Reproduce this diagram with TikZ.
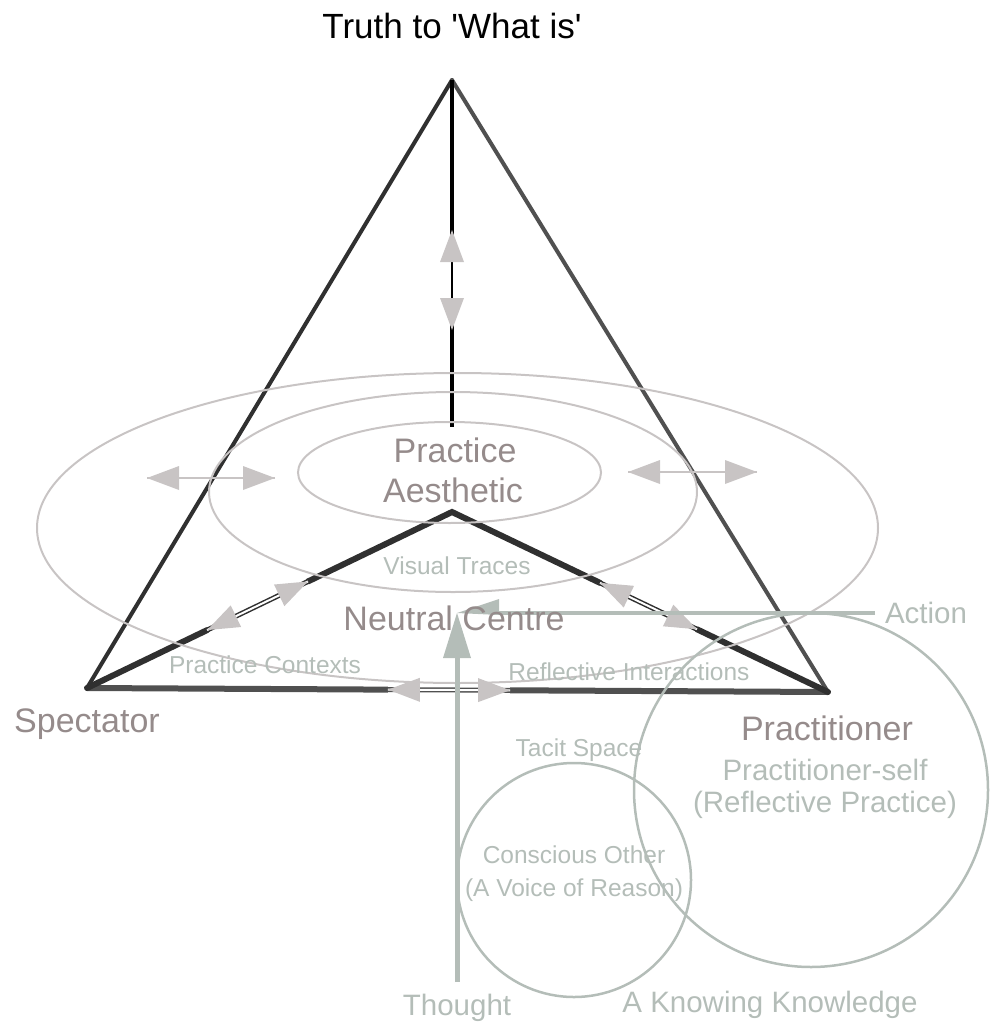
\documentclass[tikz,border=0pt]{standalone}
\usepackage{fontspec}
\setmainfont{Liberation Sans}
\newfontfamily\titlefont{Liberation Sans}[Ligatures=TeXOff]
\usetikzlibrary{calc}
\definecolor{dk}{HTML}{303030}
\definecolor{md}{HTML}{505050}
\definecolor{agray}{HTML}{C8C4C4}
\definecolor{ggreen}{HTML}{B4BDB8}
\definecolor{brn}{HTML}{958B8B}
\tikzset{
  bigtext/.style={font=\fontsize{34}{40}\selectfont, text=brn, anchor=base, inner sep=0pt},
  medtext/.style={font=\fontsize{29.5}{32}\selectfont, text=ggreen, anchor=base, inner sep=0pt},
  smalltext/.style={font=\fontsize{24.5}{30}\selectfont, text=ggreen, anchor=base, inner sep=0pt},
  outerside/.style={line width=4pt, line cap=round},
  innerside/.style={dk, line width=6pt, line cap=round, line join=miter},
  dbl/.style={line width=1.5pt, double=white, double distance=2pt},
  ring/.style={agray, line width=2pt},
  circ/.style={ggreen, line width=2.5pt},
  garrow/.style={ggreen, line width=5pt}
}
% arrowhead: tip at #2, base towards #3
\newcommand\myhead[3][agray]{%
  \coordinate (hb) at ($(#2)!32pt!(#3)$);
  \fill[#1] (#2) -- ($(hb)!12pt!90:(#2)$) -- ($(hb)!12pt!-90:(#2)$) -- cycle;}
\begin{document}
\begin{tikzpicture}[x=1pt,y=-1pt]
\useasboundingbox (0,0) rectangle (989,1024);
% key points
\coordinate (A) at (452,80);
\coordinate (S) at (87,688);
\coordinate (P) at (828,692);
\coordinate (I) at (452,512);
\coordinate (Vend) at (452,427);
\coordinate (Vup) at (452,230);
\coordinate (Vdn) at (452,330);
\coordinate (Vupb) at (452,255);
\coordinate (Vdnb) at (452,305);
% outer triangle
\draw[outerside, dk] (A) -- (S);
\draw[outerside, md] (A) -- (P);
% vertical axis
\draw[black, line width=4pt] (A) -- (Vupb);
\draw[black, line width=2.5pt] (Vup) -- (Vdn);
\draw[black, line width=4pt] (Vdnb) -- (Vend);
\myhead{Vup}{Vdn}
\myhead{Vdn}{Vup}
% base with double arrow
\coordinate (B1) at ($(S)!0.406!(P)$);
\coordinate (B2) at ($(S)!0.571!(P)$);
\draw[md, line width=6pt] (S) -- (B1);
\draw[md, line width=6pt] (B2) -- (P);
\draw[md, dbl] (B1) -- (B2);
\myhead{B1}{B2}
\myhead{B2}{B1}
% inner lines
\coordinate (L1) at ($(S)!0.329!(I)$);
\coordinate (L2) at ($(S)!0.6055!(I)$);
\coordinate (R1) at ($(I)!0.3936!(P)$);
\coordinate (R2) at ($(I)!0.6516!(P)$);
\draw[innerside] (S) -- (L1);
\draw[innerside] (L2) -- (I) -- (R1);
\draw[innerside] (R2) -- (P);
\draw[dk, dbl] (L1) -- (L2);
\draw[dk, dbl] (R1) -- (R2);
\myhead{L1}{L2}
\myhead{L2}{L1}
\myhead{R1}{R2}
\myhead{R2}{R1}
% horizontal arrows
\coordinate (HL1) at (147,478);
\coordinate (HL2) at (275,478);
\coordinate (HR1) at (628,472);
\coordinate (HR2) at (757,472);
\draw[agray, line width=2pt] (HL1) -- (HL2);
\draw[agray, line width=2pt] (HR1) -- (HR2);
\myhead{HL1}{HL2}
\myhead{HL2}{HL1}
\myhead{HR1}{HR2}
\myhead{HR2}{HR1}
% ellipses
\draw[ring] (457.5,528) ellipse [x radius=420.5, y radius=155];
\draw[ring] (453,492) ellipse [x radius=244, y radius=100];
\draw[ring] (449.5,472.5) ellipse [x radius=151.5, y radius=50.5];
% circles
\draw[circ] (811,790) circle [radius=177];
\draw[circ] (574,880) circle [radius=117];
% Thought and Action arrows
\coordinate (T0) at (457,982);
\coordinate (T1) at (457,613);
\coordinate (Tb) at (457,658);
\draw[garrow] (T0) -- (Tb);
\fill[ggreen] (T1) -- (443,658) -- (471,658) -- cycle;
\coordinate (Ac0) at (875,613);
\coordinate (Ac1) at (499,613);
\coordinate (AcTip) at (457,613);
\draw[ggreen, line width=4pt] (Ac0) -- (Ac1);
\fill[ggreen] (AcTip) -- (499,599) -- (499,615) -- cycle;
% texts
\node[anchor=base, inner sep=0pt, font=\titlefont\fontsize{35}{40}\selectfont] (title) at (452,39) {Truth to 'What is'};
\node[bigtext] (pa1) at (455,462) {Practice};
\node[bigtext] (pa2) at (453,502) {Aesthetic};
\node[smalltext] (vt) at (457,574) {Visual Traces};
\node[bigtext] (nc) at (454,630) {Neutral Centre};
\node[smalltext] (pc) at (265,673) {Practice Contexts};
\node[smalltext] (ri) at (629,680) {Reflective Interactions};
\node[bigtext] (sp) at (87,732) {Spectator};
\node[bigtext] (pr) at (827,740) {Practitioner};
\node[medtext] (ps1) at (825,780) {Practitioner-self};
\node[medtext] (ps2) at (825,812) {(Reflective Practice)};
\node[medtext] (act) at (926,623) {Action};
\node[smalltext] (ts) at (579,756) {Tacit Space};
\node[smalltext] (co1) at (574,863) {Conscious Other};
\node[smalltext] (co2) at (574,896) {(A Voice of Reason)};
\node[medtext] (th) at (457,1015) {Thought};
\node[medtext] (kk) at (770,1012) {A Knowing Knowledge};
\end{tikzpicture}
\end{document}
